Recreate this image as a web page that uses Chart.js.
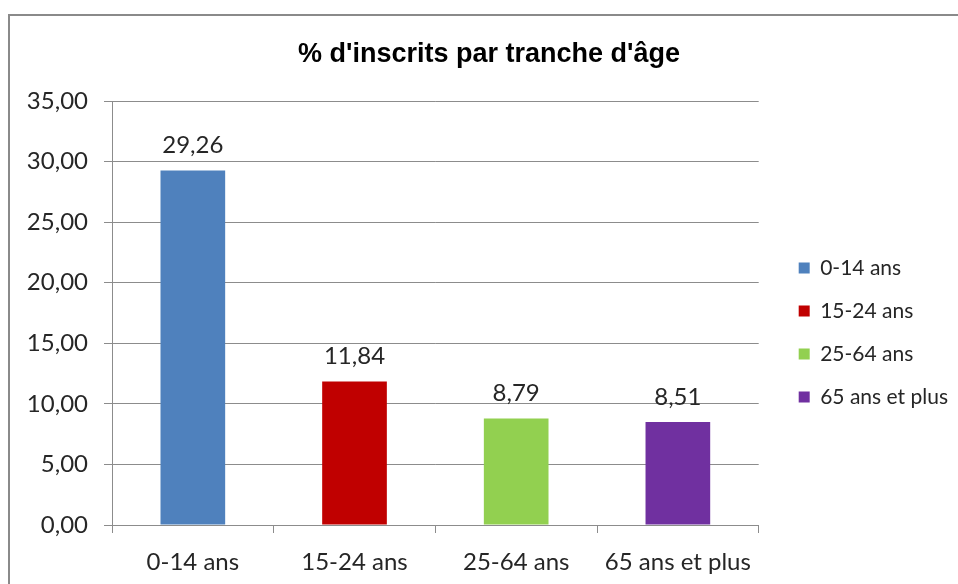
<!DOCTYPE html>
<html><head><meta charset="utf-8">
<script src="https://cdn.jsdelivr.net/npm/chart.js@4"></script>
<style>
html,body{margin:0;padding:0;background:#fff;overflow:hidden}
#wrap{position:relative;width:958px;height:584px;overflow:hidden}
#frame{position:absolute;left:8px;top:14px;width:2000px;height:2000px;border-left:2px solid #8a8a8a;border-top:2px solid #8a8a8a;pointer-events:none}
canvas{position:absolute;left:0;top:0}
</style></head><body>
<div id="wrap"><canvas id="c" width="958" height="584"></canvas><div id="frame"></div></div>
<script>
const categories = ['0-14 ans', '15-24 ans', '25-64 ans', '65 ans et plus'];
const values = [29.26, 11.84, 8.79, 8.51];
const barColors = ['#4F81BD', '#C00000', '#92D050', '#7030A0'];
const yTicks = [0, 5, 10, 15, 20, 25, 30, 35];
const titleText = "% d'inscrits par tranche d'âge";

const fmt = v => Number(v).toFixed(2).replace('.', ',');
const textColor = '#262626';
const gridColor = '#8c8c8c';
const FONT = 'Lato';

const valueLabels = {
  id: 'valueLabels',
  afterDatasetsDraw(chart) {
    const ctx = chart.ctx;
    const meta = chart.getDatasetMeta(0);
    ctx.save();
    ctx.font = '24px ' + FONT;
    ctx.fillStyle = textColor;
    ctx.textAlign = 'center';
    ctx.textBaseline = 'middle';
    meta.data.forEach((bar, i) => {
      ctx.fillText(fmt(values[i]), bar.x, bar.y - 25);
    });
    ctx.restore();
  }
};

new Chart(document.getElementById('c'), {
  type: 'bar',
  data: {
    labels: categories,
    datasets: [{
      label: titleText,
      data: values,
      backgroundColor: barColors,
      borderWidth: 0,
      categoryPercentage: 1,
      barPercentage: 0.4
    }]
  },
  options: {
    responsive: false,
    animation: false,
    events: [],
    layout: { padding: { left: 20, right: 0, top: 0, bottom: 0 } },
    scales: {
      x: {
        afterFit: s => { s.height = 59; },
        grid: { display: true, drawOnChartArea: false, drawTicks: true, tickLength: 8, color: gridColor, offset: true },
        border: { display: true, color: gridColor, width: 1 },
        ticks: { font: { family: FONT, size: 24 }, color: textColor, padding: 15, autoSkip: false, maxRotation: 0 }
      },
      y: {
        position: 'left',
        min: yTicks[0],
        max: yTicks[yTicks.length - 1],
        afterBuildTicks: s => { s.ticks = yTicks.map(v => ({ value: v })); },
        afterFit: s => { s.width = 92; },
        grid: { color: gridColor, lineWidth: 1, tickLength: 8, drawTicks: true },
        border: { display: true, color: gridColor, width: 1 },
        ticks: { padding: 16, font: { family: FONT, size: 24 }, color: textColor, callback: v => fmt(v) }
      },
      gap: {
        position: 'right',
        display: true,
        grid: { display: false, drawTicks: false },
        border: { display: false },
        ticks: { display: false },
        afterFit: s => { s.width = 18; }
      }
    },
    plugins: {
      title: {
        display: true,
        text: titleText,
        color: '#000',
        font: { family: 'Liberation Sans', size: 27, weight: 'bold' },
        padding: { top: 38, bottom: 30.6 }
      },
      legend: {
        position: 'right',
        align: 'center',
        maxWidth: 260,
        title: { display: true, text: '', font: { size: 10 }, padding: { top: 69, bottom: 0 } },
        labels: {
          boxWidth: 11,
          boxHeight: 11,
          padding: 22,
          color: textColor,
          font: { family: FONT, size: 21 },
          generateLabels: () => categories.map((c, i) => ({
            text: c, fillStyle: barColors[i], strokeStyle: barColors[i], lineWidth: 0, hidden: false, index: i, fontColor: textColor
          }))
        }
      },
      tooltip: { enabled: false }
    }
  },
  plugins: [valueLabels]
});
</script>
</body></html>
